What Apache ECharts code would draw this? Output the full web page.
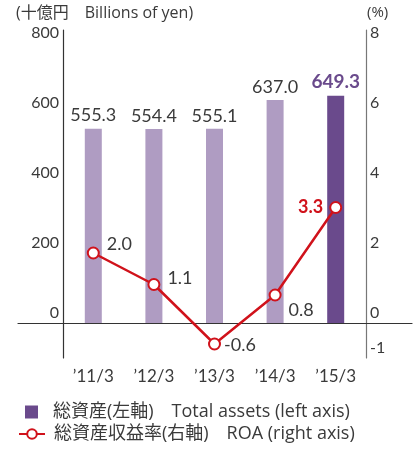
<!DOCTYPE html>
<html>
<head>
<meta charset="utf-8">
<script src="https://cdn.jsdelivr.net/npm/echarts@6/dist/echarts.min.js"></script>
<style>
  html, body { margin: 0; padding: 0; background: #fff; }
  #chart { width: 414px; height: 450px; }
</style>
</head>
<body>
<div id="chart"></div>
<script>
// 年度
var categories = ['’11/3', '’12/3', '’13/3', '’14/3', '’15/3'];
// 総資産 (十億円)
var totalAssets = [555.3, 554.4, 555.1, 637.0, 649.3];
// ROA (%)
var roa = [2.0, 1.1, -0.6, 0.8, 3.3];
// 目盛ラベル
var leftTicks = [0, 200, 400, 600, 800];
var rightTicks = [-1, 0, 2, 4, 6, 8];

var assetName = '総資産(左軸)　Total assets (left axis)';
var roaName = '総資産収益率(右軸)　ROA (right axis)';

var FONT = "Lato, 'Noto Sans CJK JP', sans-serif";
var WIDE = "'Open Sans', 'Noto Sans CJK JP', sans-serif";
var TEXT = '#3a3a3a';
var LIGHT = '#af9cc2';
var DARK = '#6a4a8c';
var RED = '#d0121b';

var chart = echarts.init(document.getElementById('chart'));

// 最後の棒だけ濃い色・太字ラベル
var barData = totalAssets.map(function (v, i) {
  if (i === totalAssets.length - 1) {
    return {
      value: v,
      itemStyle: { color: DARK },
      label: { color: DARK, fontWeight: 'bold', fontSize: 19 }
    };
  }
  return v;
});

// ROA ラベルの位置
var roaLabel = [
  { position: 'right', offset: [2, -9] },
  { position: 'right', offset: [2, -6] },
  { position: 'right', offset: [-2, 1] },
  { position: 'right', offset: [2, 15] },
  { position: 'left', offset: [-1, 0], color: RED, fontWeight: 'bold' }
];
var lineData = roa.map(function (v, i) {
  return { value: v, label: roaLabel[i] };
});

var option = {
  animation: false,
  textStyle: { fontFamily: FONT },
  title: [
    {
      text: '(十億円　Billions of yen)',
      left: 16, top: 5, padding: 0,
      textStyle: { fontFamily: WIDE, fontSize: 16, fontWeight: 'normal', color: TEXT }
    },
    {
      text: '(%)',
      left: 367, top: 5, padding: 0,
      textStyle: { fontFamily: WIDE, fontSize: 15, fontWeight: 'normal', color: TEXT }
    }
  ],
  legend: [
    {
      data: [{ name: assetName, icon: 'rect', itemStyle: { color: DARK } }],
      left: 25, top: 403, padding: 0,
      itemWidth: 13, itemHeight: 13,
      textStyle: { fontFamily: WIDE, fontSize: 18, lineHeight: 18, color: TEXT, padding: [0, 0, 0, 10] }
    },
    {
      data: [roaName],
      left: 18, top: 425, padding: 0,
      itemWidth: 26, itemHeight: 12,
      textStyle: { fontFamily: WIDE, fontSize: 18, lineHeight: 18, color: TEXT, padding: [0, 0, 0, 4] }
    }
  ],
  grid: [
    { left: 63, right: 48, top: 30, bottom: 92 },
    { left: 18, right: 2, top: 30, bottom: 92 }
  ],
  xAxis: [
    {
      type: 'category',
      gridIndex: 0,
      data: categories,
      axisLine: { show: false, onZero: false },
      axisTick: { show: false },
      axisLabel: { color: TEXT, fontSize: 17, margin: 10, fontFamily: FONT }
    },
    {
      // 0 の横線 (グリッドより左右に長い)
      type: 'value',
      gridIndex: 1,
      min: 0, max: 1,
      axisLine: { show: true, onZero: true, lineStyle: { color: '#333', width: 1.2 } },
      axisTick: { show: false },
      axisLabel: { show: false },
      splitLine: { show: false }
    }
  ],
  yAxis: [
    {
      type: 'value',
      gridIndex: 0,
      min: -100,
      max: 800 + 13 / 0.35,
      interval: 100,
      axisLine: { show: true, lineStyle: { color: '#333', width: 1.2 } },
      axisTick: { show: false },
      splitLine: { show: false },
      axisLabel: {
        showMaxLabel: false,
        color: TEXT, fontSize: 16, fontFamily: FONT,
        margin: 4,
        verticalAlign: 'bottom', lineHeight: 16, padding: [0, 0, 2, 0],
        formatter: function (v) {
          var r = Math.round(v);
          return leftTicks.indexOf(r) >= 0 ? String(r) : '';
        }
      }
    },
    {
      type: 'value',
      gridIndex: 0,
      position: 'right',
      min: -1,
      max: 8 + 13 / 35,
      interval: 1,
      axisLine: { show: true, lineStyle: { color: '#777', width: 1.2 } },
      axisTick: { show: false },
      splitLine: { show: false },
      axisLabel: {
        showMaxLabel: false,
        color: TEXT, fontSize: 16, fontFamily: FONT,
        margin: 4,
        verticalAlign: 'bottom', lineHeight: 16, padding: [0, 0, 2, 0],
        formatter: function (v) {
          var r = Math.round(v);
          return rightTicks.indexOf(r) >= 0 ? String(r) : '';
        }
      }
    },
    {
      type: 'value',
      gridIndex: 1,
      min: -100,
      max: 800 + 13 / 0.35,
      axisLine: { show: false },
      axisTick: { show: false },
      axisLabel: { show: false },
      splitLine: { show: false }
    }
  ],
  series: [
    {
      name: assetName,
      type: 'bar',
      xAxisIndex: 0,
      yAxisIndex: 0,
      barWidth: 17,
      itemStyle: { color: LIGHT },
      label: {
        show: true,
        position: 'top',
        distance: 4,
        color: TEXT,
        fontSize: 18,
        fontFamily: FONT,
        formatter: function (p) { return p.value.toFixed(1); }
      },
      data: barData,
      z: 2
    },
    {
      name: roaName,
      type: 'line',
      xAxisIndex: 0,
      yAxisIndex: 1,
      symbol: 'emptyCircle',
      symbolSize: 11,
      lineStyle: { color: RED, width: 2.5 },
      itemStyle: { color: RED, borderWidth: 2.5 },
      label: {
        show: true,
        color: TEXT,
        fontSize: 18,
        fontFamily: FONT,
        formatter: function (p) { return p.value.toFixed(1); }
      },
      data: lineData,
      z: 5
    }
  ]
};

chart.setOption(option);
</script>
</body>
</html>
